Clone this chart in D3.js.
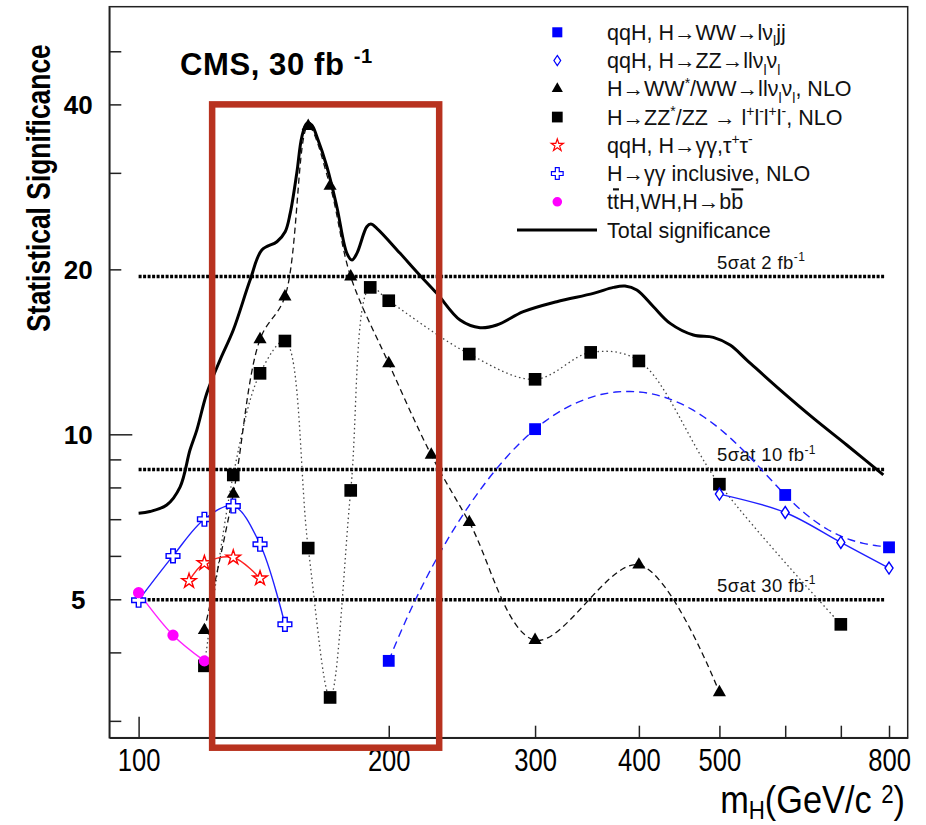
<!DOCTYPE html>
<html><head><meta charset="utf-8">
<script src="https://cdn.jsdelivr.net/npm/d3@7"></script>
<style>body{margin:0;background:#fff}svg{display:block}</style>
</head><body>
<svg id="c" width="926" height="825"></svg>
<script>
// ---------------- data ----------------
const totalMass = [100,103.2,108.1,112.2,115.3,117.5,120.8,125.3,130,136.2,140.7,146.7,150.1,152.2,155,157.2,159.4,161.6,163.9,168.5,173.2,178.1,180.6,183.1,188.2,190.3,193.5,206.4,216.2,228.5,243.7,257.6,269.8,290.4,318.6,352.6,372.8,384.9,397.7,416.5,436.2,465.2,491.6,515.1,539.5,591.6,648.6,711.6,787.5];
const totalSig  = [7.18,7.23,7.43,8.02,9.36,10.18,11.88,13.66,15.5,19.12,21.69,22.46,23.42,25.3,29.94,34.91,36.94,36.67,34.91,30.78,26.02,21.39,20.8,21.39,23.92,24.19,23.76,21.39,19.78,18.08,16.16,15.65,15.83,16.74,17.46,18.08,18.54,18.64,18.34,17.09,15.94,15.18,15.03,14.55,13.66,12.05,10.7,9.56,8.43];

const wwJjMass = [200,300,600,800];
const wwJjSig  = [3.86,10.22,7.75,6.22];

const zzNuMass = [500,600,700,800];
const zzNuSig  = [7.78,7.2,6.35,5.7];

const wwNloMass = [120,130,140,150,160,170,180,200,225,250,300,400,500];
const wwNloSig  = [4.39,7.78,14.9,17.83,36.5,28.38,19.39,13.47,9.17,6.91,4.21,5.78,3.38];

const zz4lMass = [120,130,140,150,160,170,180,190,200,250,300,350,400,500,700];
const zz4lSig  = [3.78,8.43,12.92,14.8,6.2,3.31,7.9,18.54,17.53,14.01,12.6,14.11,13.61,8.11,4.5];

const qqGamMass = [115,120,130,140];
const qqGamSig  = [5.40,5.82,5.96,5.46];

const gamInclMass = [100,110,120,130,140,150];
const gamInclSig  = [4.98,6.0,7.0,7.40,6.30,4.50];

const bbMass = [100,110,120];
const bbSig  = [5.14,4.30,3.86];

const refSig    = [19.4, 8.63, 4.99];
const refLumi   = ["2", "10", "30"];
const refRange  = [100, 790];

const xTicks      = [100,200,300,400,500,600,700,800];
const xTickLabels = [100,200,300,400,500,800];
const yTicks      = [3,4,5,6,7,8,9,10,20,30,40,50];
const yTickLabels = [5,10,20,40];

const boxMass = [122.6, 230];
const boxSig  = [40, 2.68];

// ---------------- setup ----------------
const svg = d3.select("#c");
const L = 109.3, R = 907.7, T = 6.7, B = 737.7;
const x = d3.scaleLog().domain([92.2, 842.5]).range([L, R]);
const y = d3.scaleLog().domain([2.795, 60.3]).range([B, T]);

const SANS = "'Liberation Sans', Arial, Helvetica, sans-serif";

function rich(textSel, parts, fs, supK = 0.4, subK = 0.3) {
  let shift = 0;
  parts.forEach(p => {
    const [t, m] = typeof p === "string" ? [p, ""] : p;
    const target = m === "sub" ? fs * subK : m === "sup" ? -fs * supK : 0;
    const ts = textSel.append("tspan").text(t).attr("dy", target - shift);
    if (m === "sub" || m === "sup") ts.attr("font-size", fs * 0.65);
    if (m === "bar") ts.style("text-decoration", "overline");
    shift = target;
  });
}

// Smooth curve: natural cubic spline computed in linear data space,
// rendered through the log scales.
function dataSpline(context) {
  let pts;
  return {
    areaStart() {}, areaEnd() {},
    lineStart() { pts = []; },
    point(px, py) { pts.push([x.invert(px), y.invert(py)]); },
    lineEnd() {
      const n = pts.length, X = pts.map(p => p[0]), Y = pts.map(p => p[1]);
      const M = new Array(n).fill(0), h = [];
      for (let i = 0; i < n - 1; i++) h.push(X[i + 1] - X[i]);
      if (n > 2) {
        const a = [], b = [], c = [], d = [];
        for (let i = 1; i < n - 1; i++) {
          a.push(h[i - 1]); b.push(2 * (h[i - 1] + h[i])); c.push(h[i]);
          d.push(6 * ((Y[i + 1] - Y[i]) / h[i] - (Y[i] - Y[i - 1]) / h[i - 1]));
        }
        const m = b.length;
        for (let i = 1; i < m; i++) { const w = a[i] / b[i - 1]; b[i] -= w * c[i - 1]; d[i] -= w * d[i - 1]; }
        const s = new Array(m); s[m - 1] = d[m - 1] / b[m - 1];
        for (let i = m - 2; i >= 0; i--) s[i] = (d[i] - c[i] * s[i + 1]) / b[i];
        for (let i = 0; i < m; i++) M[i + 1] = s[i];
      }
      context.moveTo(x(X[0]), y(Y[0]));
      const N = 40;
      for (let i = 0; i < n - 1; i++) {
        for (let k = 1; k <= N; k++) {
          const t = X[i] + h[i] * k / N;
          const A = (X[i + 1] - t) / h[i], Bb = (t - X[i]) / h[i];
          const v = A * Y[i] + Bb * Y[i + 1] + ((A * A * A - A) * M[i] + (Bb * Bb * Bb - Bb) * M[i + 1]) * h[i] * h[i] / 6;
          context.lineTo(x(t), y(Math.max(v, 1)));
        }
      }
    }
  };
}

// frame
svg.append("rect").attr("x", L).attr("y", T).attr("width", R - L).attr("height", B - T)
  .attr("fill", "none").attr("stroke", "#222").attr("stroke-width", 1.5);

// axes
const gy = svg.append("g").attr("transform", `translate(${L},0)`)
  .call(d3.axisLeft(y).tickValues(yTicks).tickSizeInner(-12).tickSizeOuter(0)
    .tickFormat(d => yTickLabels.includes(d) ? d : ""));
gy.select(".domain").attr("stroke", "#222").attr("stroke-width", 1.5);
gy.selectAll(".tick line").attr("stroke", "#222").attr("stroke-width", 1.5)
  .attr("x2", d => d === 10 ? 23 : 12);
gy.selectAll(".tick text").attr("x", -31).attr("dy", "0.36em").attr("text-anchor", "middle")
  .attr("font-family", SANS).attr("font-weight", "bold").attr("font-size", 26).attr("fill", "#000");

const gx = svg.append("g").attr("transform", `translate(0,${B})`)
  .call(d3.axisBottom(x).tickValues(xTicks).tickSizeInner(-12).tickSizeOuter(0)
    .tickFormat(d => xTickLabels.includes(d) ? d : ""));
gx.select(".domain").attr("stroke", "#222").attr("stroke-width", 1.5);
gx.selectAll(".tick line").attr("stroke", "#222").attr("stroke-width", 1.5)
  .attr("y2", d => d === 100 ? -21 : -12);
gx.selectAll(".tick text").attr("y", 33).attr("dy", 0).attr("transform", "scale(0.8,1)")
  .attr("font-family", SANS).attr("font-size", 32).attr("fill", "#000");

// axis titles
svg.append("text").attr("transform", "translate(50,188) rotate(-90) scale(0.8,1)")
  .attr("text-anchor", "middle").attr("font-family", SANS).attr("font-weight", "bold")
  .attr("font-size", 33).text("Statistical Significance");
const xt = svg.append("text").attr("transform", "translate(905,813) scale(0.88,1)")
  .attr("text-anchor", "end").attr("font-family", SANS).attr("font-size", 39);
rich(xt, ["m", ["H", "sub"], "(GeV/c ", ["2", "sup"], ")"], 39, 0.25, 0.15);

// reference lines
refSig.forEach((s, i) => {
  svg.append("line").attr("x1", x(refRange[0])).attr("x2", x(refRange[1]))
    .attr("y1", y(s)).attr("y2", y(s)).attr("stroke", "#000").attr("stroke-width", 3.5)
    .attr("stroke-dasharray", "3,1.5");
  const t = svg.append("text").attr("x", 717).attr("y", y(s) - 8)
    .attr("font-family", SANS).attr("font-size", 18.5).attr("letter-spacing", 0.4).attr("fill", "#111");
  rich(t, ["5σat " + refLumi[i] + " fb", ["-1", "sup"]], 18.5);
});

// line generators
const mk = (ms, ss) => ms.map((m, i) => [x(m), y(ss[i])]);
const cr = d3.line().curve(d3.curveCatmullRom.alpha(0.5));
const sp = d3.line().curve(dataSpline);

// total
svg.append("path").attr("d", cr(mk(totalMass, totalSig))).attr("fill", "none")
  .attr("stroke", "#000").attr("stroke-width", 3);

// series lines
svg.append("path").attr("d", cr(mk(zz4lMass, zz4lSig))).attr("fill", "none")
  .attr("stroke", "#444").attr("stroke-width", 1.3).attr("stroke-dasharray", "1.5,3");
svg.append("path").attr("d", cr(mk(wwNloMass, wwNloSig))).attr("fill", "none")
  .attr("stroke", "#111").attr("stroke-width", 1.3).attr("stroke-dasharray", "6,4");
svg.append("path").attr("d", sp(mk(wwJjMass, wwJjSig))).attr("fill", "none")
  .attr("stroke", "#2020ff").attr("stroke-width", 1.4).attr("stroke-dasharray", "8,5");
svg.append("path").attr("d", cr(mk(zzNuMass, zzNuSig))).attr("fill", "none")
  .attr("stroke", "#2020ff").attr("stroke-width", 1.4);
svg.append("path").attr("d", cr(mk(qqGamMass, qqGamSig))).attr("fill", "none")
  .attr("stroke", "#ff2020").attr("stroke-width", 1.4);
svg.append("path").attr("d", cr(mk(gamInclMass, gamInclSig))).attr("fill", "none")
  .attr("stroke", "#2020ff").attr("stroke-width", 1.4);
svg.append("path").attr("d", cr(mk(bbMass, bbSig))).attr("fill", "none")
  .attr("stroke", "#ff20ff").attr("stroke-width", 1.4);

// markers
const diamond = "M0,-6L4,0L0,6L-4,0Z";
const styles = {
  sqBlue:  {d: d3.symbol(d3.symbolSquare, 140)(), fill: "#0000ff", stroke: "none"},
  diaBlue: {d: diamond, fill: "#fff", stroke: "#0000ff"},
  triBlk:  {d: d3.symbol(d3.symbolTriangle, 75)(), fill: "#000", stroke: "none"},
  sqBlk:   {d: d3.symbol(d3.symbolSquare, 160)(), fill: "#000", stroke: "none"},
  starRed: {d: d3.symbol(d3.symbolStar, 65)(), fill: "#fff", stroke: "#ff0000"},
  crsBlue: {d: d3.symbol(d3.symbolCross, 105)(), fill: "#fff", stroke: "#0000ff"},
  cirMag:  {d: d3.symbol(d3.symbolCircle, 100)(), fill: "#ff00ff", stroke: "none"}
};
function markers(ms, ss, st) {
  const s = styles[st];
  svg.append("g").selectAll("path").data(ms).join("path")
    .attr("transform", (m, i) => `translate(${x(m)},${y(ss[i])})`)
    .attr("d", s.d).attr("fill", s.fill).attr("stroke", s.stroke).attr("stroke-width", 1.4);
}
markers(zz4lMass, zz4lSig, "sqBlk");
markers(wwNloMass, wwNloSig, "triBlk");
markers(wwJjMass, wwJjSig, "sqBlue");
markers(zzNuMass, zzNuSig, "diaBlue");
markers(qqGamMass, qqGamSig, "starRed");
markers(gamInclMass, gamInclSig, "crsBlue");
markers(bbMass, bbSig, "cirMag");

// legend
const legend = [
  {st: "sqBlue",  parts: ["qqH, H→WW→lν", ["l", "sub"], "jj"]},
  {st: "diaBlue", parts: ["qqH, H→ZZ→llν", ["l", "sub"], "ν", ["l", "sub"]]},
  {st: "triBlk",  parts: ["H→WW", ["*", "sup"], "/WW→llν", ["l", "sub"], "ν", ["l", "sub"], ", NLO"]},
  {st: "sqBlk",   parts: ["H→ZZ", ["*", "sup"], "/ZZ → l", ["+", "sup"], "l", ["-", "sup"], "l", ["+", "sup"], "l", ["-", "sup"], ", NLO"]},
  {st: "starRed", parts: ["qqH, H→γγ,τ", ["+", "sup"], "τ", ["-", "sup"]]},
  {st: "crsBlue", parts: ["H→γγ inclusive, NLO"]},
  {st: "cirMag",  parts: ["t", ["t", "bar"], "H,WH,H→b", ["b", "bar"]]},
  {st: "line",    parts: ["Total significance"]}
];
legend.forEach((e, i) => {
  const cy = 32.3 + i * 28.25;
  if (e.st === "line") {
    svg.append("line").attr("x1", 517).attr("x2", 597).attr("y1", cy).attr("y2", cy)
      .attr("stroke", "#000").attr("stroke-width", 3);
  } else {
    const s = styles[e.st];
    svg.append("path").attr("transform", `translate(557.3,${cy}) scale(0.85)`).attr("d", s.d)
      .attr("fill", s.fill).attr("stroke", s.stroke).attr("stroke-width", 1.4);
  }
  const t = svg.append("text").attr("x", 607).attr("y", cy + 7.5)
    .attr("font-family", SANS).attr("font-size", 21.5).attr("fill", "#111");
  rich(t, e.parts, 21.5);
});

// CMS label
const cms = svg.append("text").attr("x", 180).attr("y", 75).attr("font-family", SANS)
  .attr("font-weight", "bold").attr("font-size", 31).attr("letter-spacing", 0.6);
rich(cms, ["CMS, 30 fb ", ["-1", "sup"]], 31);

// highlight box
svg.append("rect").attr("x", x(boxMass[0])).attr("y", y(boxSig[0]))
  .attr("width", x(boxMass[1]) - x(boxMass[0])).attr("height", y(boxSig[1]) - y(boxSig[0]))
  .attr("fill", "none").attr("stroke", "#b8321f").attr("stroke-width", 6.5);
</script>
</body></html>
